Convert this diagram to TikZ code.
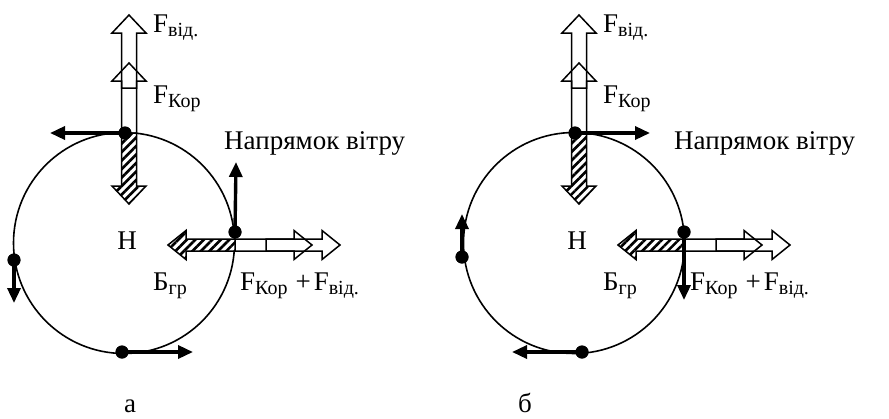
\documentclass[tikz,border=0pt]{standalone}
\usepackage{fontspec}
\setmainfont{Liberation Serif}
\usetikzlibrary{arrows.meta,patterns.meta}
% #1 style, #2 start, #3 angle, #4 length, #5 shaft half width, #6 head half width
\newcommand\blockarr[6]{%
  \path[#1,shift={#2},rotate=#3] (0,-#5) -- ({#4-18},-#5) -- ({#4-18},-#6) -- (#4,0)
    -- ({#4-18},#6) -- ({#4-18},#5) -- (0,#5) -- cycle;}
\newcommand\sbs[1]{\raisebox{-4.5pt}{\fontsize{20}{22}\selectfont #1}}
\newcommand\commonparts[1]{%
  \draw[ring] (124,243) circle[radius=110.5];
  % vertical block arrows
  \blockarr{fill=white}{(129,133)}{90}{70}{7.5}{17}
  \blockarr{fill=white}{(129,88)}{90}{73}{7.5}{17}
  \blockarr{blkout}{(129,133)}{90}{70}{7.5}{17}
  \blockarr{blkout}{(129,88)}{90}{73}{7.5}{17}
  \blockarr{hatch}{(129,133)}{-90}{71}{7.5}{17}
  % horizontal block arrows
  \blockarr{fill=white}{(235,245)}{0}{77}{6}{14.5}
  \blockarr{fill=white}{(266,245)}{0}{74}{6}{14.5}
  \blockarr{blkout}{(235,245)}{0}{77}{6}{14.5}
  \blockarr{blkout}{(266,245)}{0}{74}{6}{14.5}
  \blockarr{hatch}{(235,245)}{180}{67}{6}{14.5}
  % labels
  \node[lbl] (#1fvid) at (153,32) {F\sbs{від.}};
  \node[lbl] (#1fkor) at (153,103) {F\sbs{Кор}};
  \node[lbl] (#1wind) at (224,149) {Напрямок вітру};
  \node[lbl,anchor=base] (#1h) at (127,249) {Н};
  \node[lbl] (#1bgr) at (153,290) {Б\sbs{гр}};
  \node[lbl] (#1sum) at (240,290) {F\sbs{Кор}\hspace{8pt}+\hspace{3pt}F\sbs{від.}};
}
\begin{document}
\begin{tikzpicture}[x=1pt,y=-1pt,
  ring/.style={line width=1.6pt},
  blkout/.style={draw,line width=1.5pt,line join=miter},
  hatch/.style={draw,line width=1.5pt,line join=miter,preaction={fill=white},
    pattern={Lines[angle=45,distance=6pt,line width=2.6pt]}},
  force/.style={line width=3.4pt,-{Triangle[length=15pt,width=13pt]}},
  dot/.style={circle,fill,inner sep=0pt,minimum size=13pt},
  lbl/.style={font=\fontsize{27}{31}\selectfont,inner sep=0pt,anchor=base west}]
\useasboundingbox (0,0) rectangle (889,418);
% ---------- figure a ----------
\begin{scope}
  \commonparts{a}
  \coordinate (aTopE) at (50,133);
  \coordinate (aRgtE) at (236,162);
  \coordinate (aLftE) at (14,303);
  \coordinate (aBotE) at (193,352);
  \node[dot] (aTop) at (125,133) {};
  \node[dot] (aRgt) at (235,232) {};
  \node[dot] (aLft) at (14,260) {};
  \node[dot] (aBot) at (122,352) {};
  \draw[force] (aTop.center) -- (aTopE);
  \draw[force] (aRgt.center) -- (aRgtE);
  \draw[force] (aLft.center) -- (aLftE);
  \draw[force] (aBot.center) -- (aBotE);
  \node[dot] at (aTop) {};
  \node[dot] at (aRgt) {};
  \node[dot] at (aLft) {};
  \node[dot] at (aBot) {};
  \node[lbl,anchor=base] (alabel) at (130,412) {а};
\end{scope}
% ---------- figure b ----------
\begin{scope}[xshift=450pt]
  \commonparts{b}
  \coordinate (bTopE) at (200,133);
  \coordinate (bRgtE) at (234,300);
  \coordinate (bLftE) at (12,214);
  \coordinate (bBotE) at (62,352);
  \node[dot] (bTop) at (125,133) {};
  \node[dot] (bRgt) at (234,232) {};
  \node[dot] (bLft) at (12,257) {};
  \node[dot] (bBot) at (132,352) {};
  \draw[force] (bTop.center) -- (bTopE);
  \draw[force] (bRgt.center) -- (bRgtE);
  \draw[force] (bLft.center) -- (bLftE);
  \draw[force] (bBot.center) -- (bBotE);
  \node[dot] at (bTop) {};
  \node[dot] at (bRgt) {};
  \node[dot] at (bLft) {};
  \node[dot] at (bBot) {};
  \node[lbl,anchor=base] (blabel) at (75,412) {б};
\end{scope}
\end{tikzpicture}
\end{document}
